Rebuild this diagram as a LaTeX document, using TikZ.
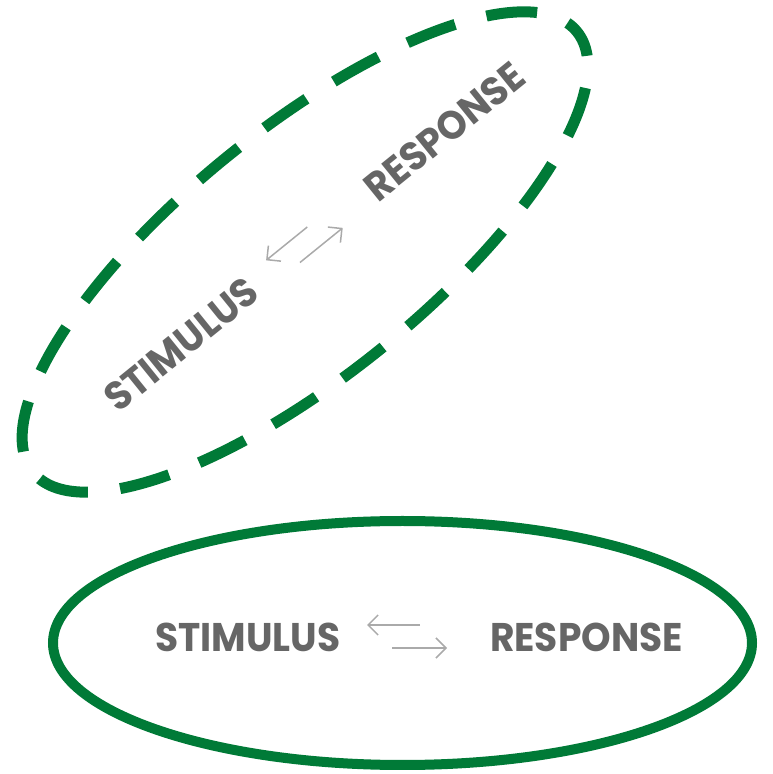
\documentclass[tikz,border=0pt]{standalone}
\usepackage{fontspec}
\usetikzlibrary{arrows.meta}
\newfontfamily\gothic{Poppins}
\definecolor{leafgreen}{RGB}{0,122,55}
\definecolor{txtgray}{RGB}{102,102,102}
\definecolor{arrowgray}{RGB}{170,170,170}
\begin{document}
\begin{tikzpicture}
[x=1pt, y=1pt, font=\gothic\bfseries\fontsize{40}{40}\selectfont]
\tikzstyle{word}=[text=txtgray, inner sep=0pt, transform shape, xscale=0.94]
\tikzstyle{loop}=[draw=leafgreen, line width=10pt]
\tikzstyle{link}=[draw=arrowgray, line width=1.5pt, -{Straight Barb[length=10pt, width=20pt]}]
\useasboundingbox (0,0) rectangle (773,774);

% flat view
\begin{scope}[shift={(402.5,131)}]
\draw[loop] (0,0) ellipse [x radius=349.5, y radius=122];
\node[word]	(S1)	at (-154.5,6)	{STIMULUS};
\node[word]	(R1)	at (184,6)	{RESPONSE};
\coordinate (a1) at (17.5,18);
\coordinate (b1) at (-35.5,18);
\coordinate (c1) at (-10.5,-5);
\coordinate (d1) at (44.5,-5);
\draw[link] (a1) -- (b1);
\draw[link] (c1) -- (d1);
\end{scope}

% tilted view
\begin{scope}[shift={(305,522)}, rotate=39, transform shape]
\draw[loop, line width=11pt, dash pattern=on 51pt off 32.4pt, dash phase=38pt] (0,0) ellipse [x radius=350, y radius=123];
\node[word]	(S2)	at (-154.5,6)	{STIMULUS};
\node[word]	(R2)	at (184,6)	{RESPONSE};
\coordinate (a2) at (17.5,18);
\coordinate (b2) at (-35.5,18);
\coordinate (c2) at (-10.5,-5);
\coordinate (d2) at (44.5,-5);
\draw[link] (a2) -- (b2);
\draw[link] (c2) -- (d2);
\end{scope}
\end{tikzpicture}
\end{document}
